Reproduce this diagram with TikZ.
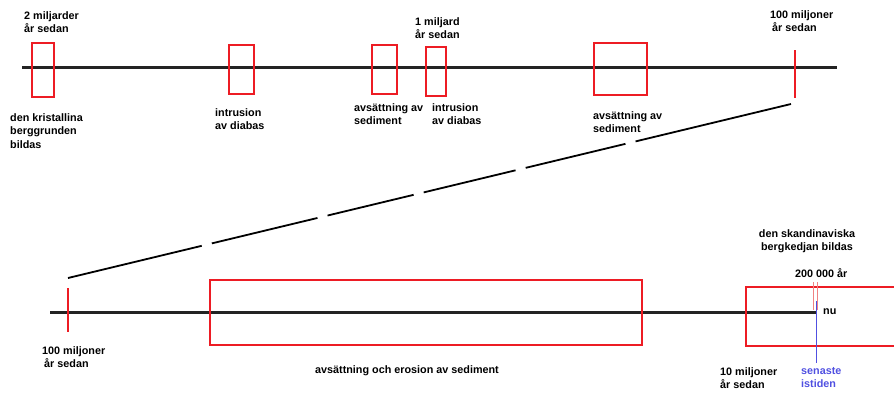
\documentclass[tikz,border=0pt]{standalone}
\usepackage{fontspec}
\setmainfont{Liberation Sans}
\usetikzlibrary{calc}
\definecolor{rd}{RGB}{237,28,36}
\definecolor{pk}{RGB}{240,130,130}
\definecolor{bl}{RGB}{80,80,225}
\definecolor{ln}{RGB}{35,35,35}
\begin{document}
\begin{tikzpicture}[x=1pt,y=-1pt,
  lbl/.style={font=\fontsize{10.8}{13.5}\selectfont\bfseries, inner sep=0pt, align=left, anchor=north west},
  box/.style={draw=rd, line width=1.8pt, inner sep=0pt},
  axis/.style={draw=ln, line width=3pt},
  tick/.style={draw=rd, line width=1.8pt},
  conn/.style={draw=black, line width=1.8pt}]
\useasboundingbox (0,0) rectangle (894,394);
% top timeline
\coordinate (ta) at (22,67);
\coordinate (tb) at (837,67);
\draw[axis] (ta) -- (tb);
\node[box, minimum width=22pt, minimum height=54pt] (b1) at (43,70) {};
\node[box, minimum width=25pt, minimum height=49pt] (b2) at (241.5,69.5) {};
\node[box, minimum width=25pt, minimum height=49pt] (b3) at (384.5,69.5) {};
\node[box, minimum width=20pt, minimum height=49pt] (b4) at (436,71.5) {};
\node[box, minimum width=53pt, minimum height=52pt] (b5) at (620.5,69) {};
\coordinate (t1a) at (795,50);
\coordinate (t1b) at (795,98);
\draw[tick] (t1a) -- (t1b);
% top labels
\node[lbl] (l1) at (24,11) {2 miljarder\\år sedan};
\node[lbl] (l2) at (10,113) {den kristallina\\berggrunden\\bildas};
\node[lbl] (l3) at (215,108) {intrusion\\av diabas};
\node[lbl] (l4) at (354,103) {avsättning av\\sediment};
\node[lbl] (l5) at (432,103) {intrusion\\av diabas};
\node[lbl] (l6) at (415,17) {1 miljard\\år sedan};
\node[lbl] (l7) at (593,111) {avsättning av\\sediment};
\node[lbl] (l8) at (770,10) {100 miljoner\\\hspace*{2pt}år sedan};
% connector (broken line)
\coordinate (c1) at (68,278);
\coordinate (c2) at (791,104);
\foreach \s/\e in {0/0.185, 0.199/0.345, 0.359/0.478, 0.492/0.619, 0.633/0.771, 0.785/1}
  \draw[conn] ($(c1)!\s!(c2)$) -- ($(c1)!\e!(c2)$);
% bottom timeline
\coordinate (ba) at (50,312);
\coordinate (bb) at (817,312);
\draw[axis] (ba) -- (bb);
\coordinate (t2a) at (68,288);
\coordinate (t2b) at (68,332);
\draw[tick] (t2a) -- (t2b);
\node[box, minimum width=432pt, minimum height=65pt] (b6) at (426,312.5) {};
\draw[draw=rd, line width=1.8pt] (895,287) -- (746,287) -- (746,346) -- (895,346);
\draw[draw=pk, line width=0.9pt] (813,282) -- (813,310);
\draw[draw=pk, line width=0.9pt] (817,282) -- (817,310);
\draw[draw=bl, line width=0.9pt] (816,301) -- (816,363);
% bottom labels
\node[lbl] (l9) at (42,346) {100 miljoner\\\hspace*{2pt}år sedan};
\node[lbl, anchor=center] (l10) at (407,371) {avsättning och erosion av sediment};
\node[lbl] (l11) at (720,367) {10 miljoner\\år sedan};
\node[lbl, text=bl] (l12) at (801,367) {senaste\\istiden};
\node[lbl, anchor=west] (l13) at (823,312) {nu};
\node[lbl] (l14) at (795,268) {200 000 år};
\node[lbl, align=center, anchor=north] (l15) at (807,229) {den skandinaviska\\bergkedjan bildas};
\end{tikzpicture}
\end{document}
